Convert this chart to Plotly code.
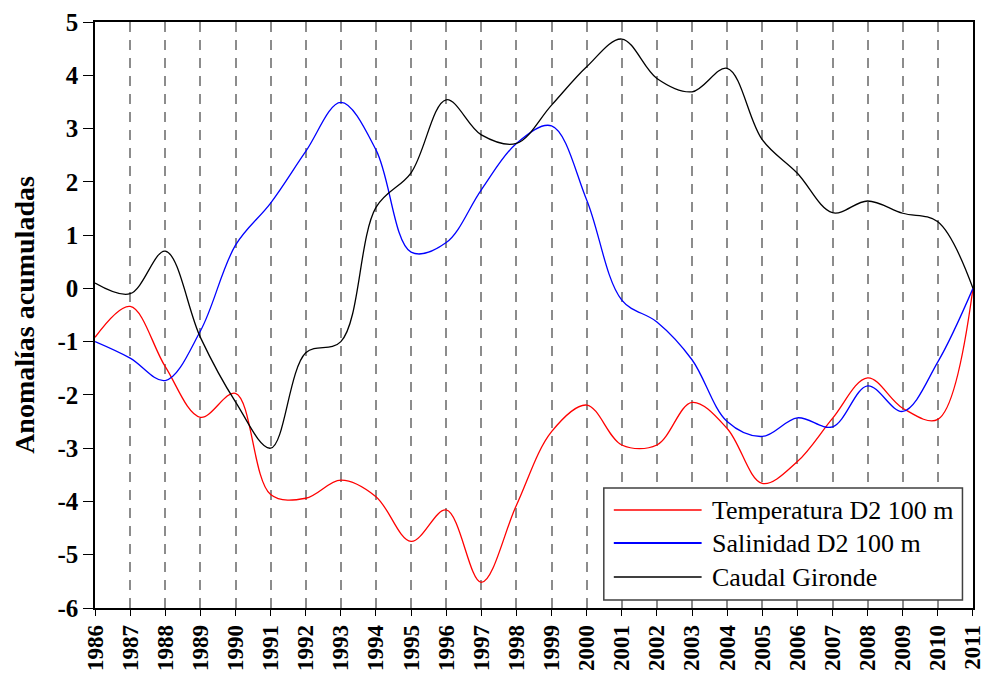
import plotly.graph_objects as go

# Years and accumulated anomalies for each series
years = list(range(1986, 2012))

temperatura = [-0.92, -0.34, -1.47, -2.42, -1.97, -3.87, -3.94, -3.60, -3.91, -4.75,
               -4.16, -5.52, -4.07, -2.69, -2.19, -2.94, -2.94, -2.14, -2.63, -3.66,
               -3.25, -2.44, -1.68, -2.25, -2.46, 0.0]

salinidad = [-1.00, -1.31, -1.73, -0.80, 0.81, 1.60, 2.57, 3.49, 2.60, 0.68,
             0.86, 1.85, 2.72, 3.05, 1.66, -0.22, -0.63, -1.34, -2.50, -2.78,
             -2.43, -2.60, -1.83, -2.31, -1.38, 0.0]

caudal = [0.10, -0.10, 0.70, -0.92, -2.13, -3.00, -1.21, -1.00, 1.52, 2.17,
          3.54, 2.88, 2.72, 3.44, 4.16, 4.68, 3.94, 3.69, 4.13, 2.79,
          2.16, 1.42, 1.64, 1.41, 1.25, 0.0]

series_names = ["Temperatura D2 100 m", "Salinidad D2 100 m", "Caudal Gironde"]
series_values = [temperatura, salinidad, caudal]
series_colors = ["#ff0000", "#0000ff", "#000000"]

y_tick_values = [5, 4, 3, 2, 1, 0, -1, -2, -3, -4, -5, -6]
y_tick_labels = ["5", "4", "3", "2", "1", "0", "-1", "-2", "-3", "-4", "-5", "-6"]
x_tick_labels = [str(y) for y in years]

serif = "Liberation Serif, Times New Roman, serif"

fig = go.Figure()
for name, vals, color in zip(series_names, series_values, series_colors):
    fig.add_trace(go.Scatter(
        x=years, y=vals, name=name, mode="lines",
        line=dict(color=color, width=1.3, shape="spline", smoothing=1.0),
        showlegend=False,
    ))

# Boxed legend with long line samples
leg_x0, leg_x1, leg_top, leg_bot = 0.5795, 0.988, 0.2048, 0.0137
row_y = [0.1672, 0.1109, 0.0529]
shapes = [dict(type="rect", xref="paper", yref="paper",
               x0=leg_x0, x1=leg_x1, y0=leg_bot, y1=leg_top,
               line=dict(color="#404040", width=1.5), fillcolor="white", layer="above")]
annotations = []
for name, color, ry in zip(series_names, series_colors, row_y):
    shapes.append(dict(type="line", xref="paper", yref="paper",
                       x0=0.5909, x1=0.6909, y0=ry, y1=ry,
                       line=dict(color=color, width=1.5 if color != "#0000ff" else 2), layer="above"))
    annotations.append(dict(xref="paper", yref="paper", x=0.7010, y=ry,
                            xanchor="left", yanchor="middle", showarrow=False,
                            text=name, font=dict(family=serif, size=26, color="black")))

fig.update_layout(
    width=984, height=673,
    margin=dict(l=95, r=11, t=22, b=65),
    paper_bgcolor="white", plot_bgcolor="white",
    shapes=shapes, annotations=annotations,
    xaxis=dict(
        range=[1985.999, 2011.001], tickmode="array", tickvals=years, ticktext=x_tick_labels,
        tickangle=-90, ticks="outside", ticklen=6, tickcolor="black", tickwidth=1,
        showgrid=True, gridcolor="#8c8c8c", gridwidth=1.5, griddash="10px,8px",
        showline=True, linecolor="black", linewidth=1.5, mirror=True,
        zeroline=False, automargin=False, ticklabeloverflow="allow",
        tickfont=dict(family=serif, size=23, color="black", weight="bold"),
    ),
    yaxis=dict(
        range=[-6, 5], tickmode="array", tickvals=y_tick_values, ticktext=y_tick_labels,
        ticks="outside", ticklen=10, tickcolor="black", tickwidth=1,
        showgrid=False, zeroline=False, automargin=False,
        showline=True, linecolor="black", linewidth=1.5, mirror=True,
        tickfont=dict(family=serif, size=25, color="black", weight="bold"),
        title=dict(text="Anomalías acumuladas",
                   font=dict(family=serif, size=28, color="black", weight="bold")),
    ),
)

fig.write_html("out.html")
